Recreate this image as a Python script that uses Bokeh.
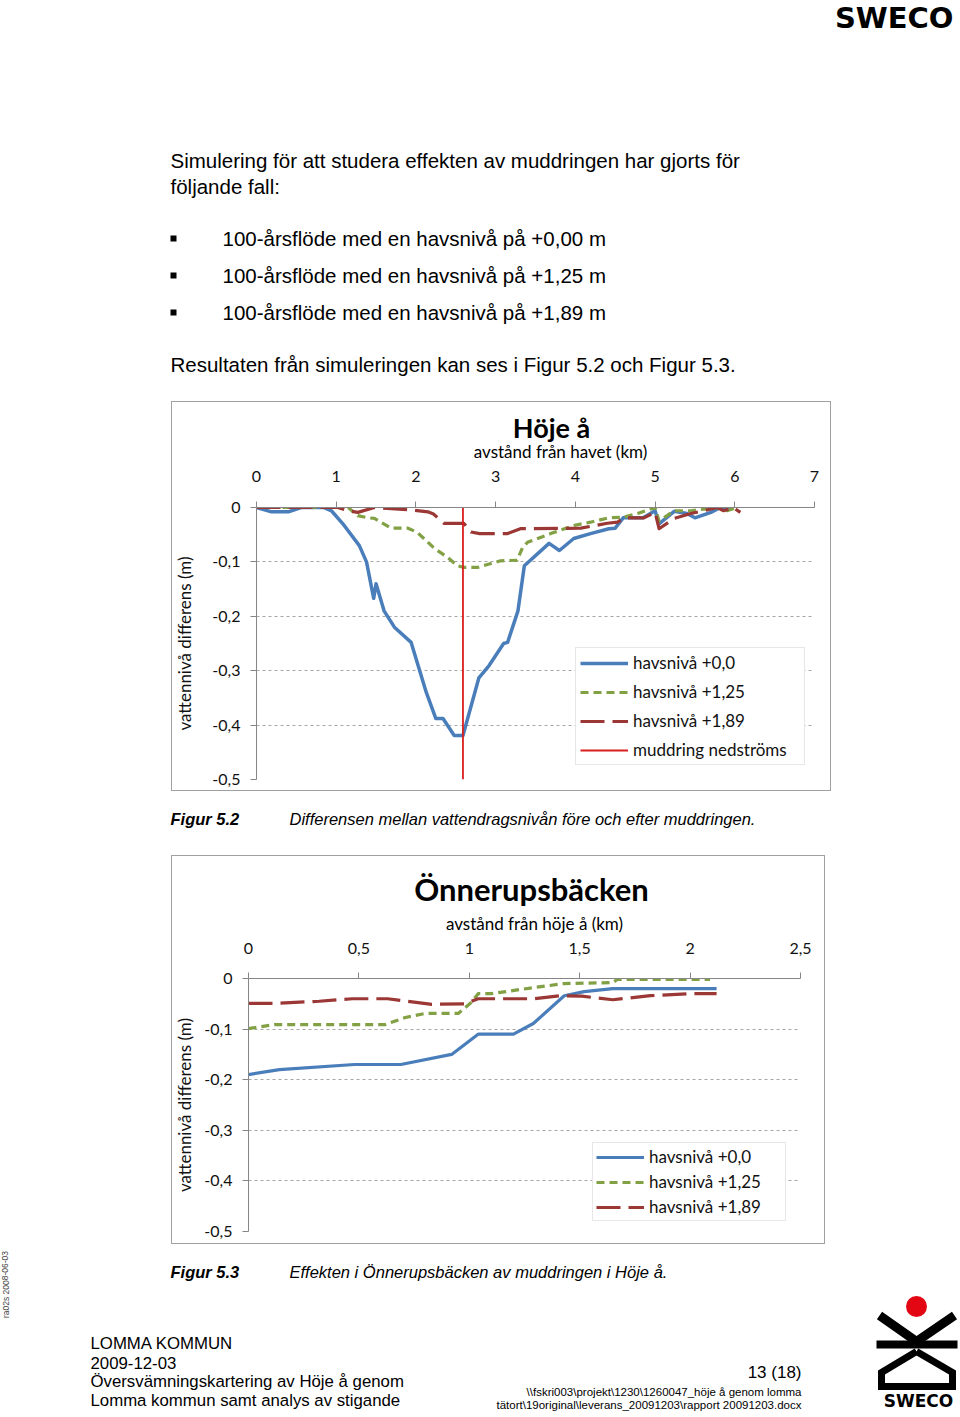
from bokeh.plotting import figure
from bokeh.layouts import column, row, Spacer
from bokeh.models import Range1d, FixedTicker, CustomJSTickFormatter, Legend, LegendItem
from bokeh.core.properties import value
from bokeh.embed import file_html
from bokeh.resources import INLINE

# ---------------- data: chart 1 (Höje å) ----------------
hoje_x_ticks = [0, 1, 2, 3, 4, 5, 6, 7]
hoje_y_ticks = [0, -0.1, -0.2, -0.3, -0.4, -0.5]

hoje_km_00 = [0, 0.19, 0.4, 0.56, 0.84, 0.94, 1.1, 1.29, 1.38, 1.47, 1.5, 1.6, 1.73, 1.94,
              2.13, 2.25, 2.34, 2.48, 2.59, 2.79, 2.92, 3.1, 3.15, 3.28, 3.36, 3.67, 3.8,
              3.98, 4.19, 4.42, 4.5, 4.6, 4.85, 5.0, 5.05, 5.24, 5.4, 5.5, 5.7, 5.82, 5.95]
hoje_diff_00 = [0, -0.008, -0.008, 0, 0, -0.006, -0.033, -0.07, -0.10, -0.167, -0.14, -0.19,
                -0.22, -0.248, -0.34, -0.388, -0.388, -0.419, -0.419, -0.313, -0.29, -0.25,
                -0.248, -0.19, -0.107, -0.066, -0.079, -0.057, -0.048, -0.039, -0.038, -0.019,
                -0.019, -0.006, -0.03, -0.007, -0.011, -0.019, -0.009, 0, 0]

hoje_km_125 = [0, 1.15, 1.27, 1.4, 1.48, 1.69, 1.9, 2.02, 2.23, 2.4, 2.52, 2.6, 2.78, 2.94,
               3.06, 3.27, 3.34, 3.4, 3.69, 3.98, 4.19, 4.42, 4.6, 4.78, 5.0, 5.05, 5.24,
               5.45, 5.78, 5.9, 6.03]
hoje_diff_125 = [0, 0, -0.015, -0.019, -0.02, -0.038, -0.038, -0.046, -0.075, -0.092, -0.107,
                 -0.11, -0.11, -0.103, -0.098, -0.097, -0.073, -0.064, -0.048, -0.033, -0.027,
                 -0.019, -0.018, -0.011, 0, -0.025, -0.006, -0.006, 0, -0.006, 0]

hoje_km_189 = [0, 1.02, 1.15, 1.27, 1.48, 1.9, 2.15, 2.22, 2.35, 2.6, 2.69, 2.8, 3.15, 3.31,
               4.07, 4.4, 4.53, 4.61, 4.86, 5.0, 5.05, 5.24, 5.45, 5.61, 5.78, 5.86, 5.98, 6.07]
hoje_diff_189 = [0, 0, -0.006, -0.009, 0, -0.004, -0.008, -0.012, -0.029, -0.029, -0.045,
                 -0.048, -0.048, -0.039, -0.038, -0.029, -0.027, -0.019, -0.019, -0.009,
                 -0.039, -0.02, -0.011, -0.006, 0, -0.006, 0, -0.009]

muddring_km = 2.59

# ---------------- data: chart 2 (Önnerupsbäcken) ----------------
onn_x_ticks = [0, 0.5, 1, 1.5, 2, 2.5]
onn_y_ticks = [0, -0.1, -0.2, -0.3, -0.4, -0.5]

onn_km_00 = [0, 0.14, 0.48, 0.69, 0.92, 1.04, 1.2, 1.29, 1.43, 1.52, 1.65, 2.12]
onn_diff_00 = [-0.19, -0.18, -0.17, -0.17, -0.15, -0.11, -0.11, -0.089, -0.034, -0.026,
               -0.02, -0.02]
onn_km_125 = [0, 0.12, 0.62, 0.71, 0.8, 0.95, 1.01, 1.04, 1.1, 1.29, 1.43, 1.65, 1.67, 2.09]
onn_diff_125 = [-0.099, -0.091, -0.091, -0.077, -0.069, -0.069, -0.047, -0.03, -0.03,
                -0.018, -0.01, -0.008, -0.002, -0.002]
onn_km_189 = [0, 0.12, 0.32, 0.47, 0.63, 0.83, 0.98, 1.04, 1.29, 1.41, 1.51, 1.65, 1.82,
              2.0, 2.12]
onn_diff_189 = [-0.049, -0.049, -0.045, -0.04, -0.04, -0.051, -0.05, -0.04, -0.04, -0.034,
                -0.035, -0.042, -0.034, -0.03, -0.03]

series_labels = ["havsnivå +0,0", "havsnivå +1,25", "havsnivå +1,89"]
muddring_label = "muddring nedströms"

# ---------------- texts ----------------
chart1_title = "Höje å"
chart1_sub = "avstånd från havet (km)"
chart2_title = "Önnerupsbäcken"
chart2_sub = "avstånd från höje å (km)"
y_label = "vattennivå differens (m)"
para_lines = ["Simulering för att studera effekten av muddringen har gjorts för",
              "följande fall:"]
bullet_lines = ["100-årsflöde med en havsnivå på +0,00 m",
                "100-årsflöde med en havsnivå på +1,25 m",
                "100-årsflöde med en havsnivå på +1,89 m"]
result_line = "Resultaten från simuleringen kan ses i Figur 5.2 och Figur 5.3."
cap1 = ("Figur 5.2", "Differensen mellan vattendragsnivån före och efter muddringen.")
cap2 = ("Figur 5.3", "Effekten i Önnerupsbäcken av muddringen i Höje å.")
footer_left = ["LOMMA KOMMUN", "2009-12-03", "Översvämningskartering av Höje å genom",
               "Lomma kommun samt analys av stigande"]
footer_page = "13 (18)"
footer_path = ["\\\\fskri003\\projekt\\1230\\1260047_höje å genom lomma",
               "tätort\\19original\\leverans_20091203\\rapport 20091203.docx"]
side_text = "ra02s 2008-06-03"

BLUE = "#4a7ebb"
GREEN = "#82a044"
DRED = "#9b3734"
RED = "#d91e1e"
GRAY = "#a6a6a6"
BOX = "#a0a0a0"
BODY_FONT = "Liberation Sans"
CHART_FONT = "Lato"

fmt_code = """
const v = Math.round(tick*10)/10;
let s = (v === 0) ? "0" : String(v);
return s.replace(".", ",");
"""

BOX_TOP = {"background-color": "white",
           "box-shadow": f"inset 1px 0 0 {BOX}, inset -1px 0 0 {BOX}, inset 0 1px 0 {BOX}"}
BOX_BOTTOM = {"background-color": "white",
              "box-shadow": f"inset 1px 0 0 {BOX}, inset -1px 0 0 {BOX}, inset 0 -1px 0 {BOX}"}


def page_fig(width, height, x0, y0, styles=None):
    if styles is not None:
        kw = dict(styles=styles, border_fill_color=None, background_fill_color=None)
    else:
        kw = dict(border_fill_color="white", background_fill_color="white")
    p = figure(width=width, height=height, x_range=Range1d(x0, x0 + width),
               y_range=Range1d(y0 + height, y0), x_axis_location=None, y_axis_location=None,
               output_backend="svg", toolbar_location=None, min_border=0, **kw)
    p.grid.visible = False
    p.outline_line_color = None
    return p


def txt(p, x, y, s, size, font=BODY_FONT, style="normal", align="left", color="#000000",
        angle=0.0):
    p.text(x=[x], y=[y], text=[s], text_font=value(font), text_font_size=value(f"{size}px"),
           text_font_style=style, text_align=align, text_baseline="middle",
           text_color=color, angle=angle)


def chart(width, height, xr, xticks, yticks, mb, xstand, ylab_stand):
    p = figure(width=width, height=height, x_range=Range1d(*xr), y_range=Range1d(-0.5, 0),
               x_axis_location="above", output_backend="svg", toolbar_location=None,
               min_border_left=mb[0], min_border_right=mb[1], min_border_top=mb[2],
               min_border_bottom=mb[3], border_fill_color=None,
               background_fill_color="white", styles=BOX_BOTTOM)
    p.title.visible = False
    p.outline_line_color = None
    p.xgrid.visible = False
    p.ygrid.grid_line_color = GRAY
    p.ygrid.grid_line_dash = "3 3"
    p.ygrid.grid_line_width = 1
    fmt = CustomJSTickFormatter(code=fmt_code)
    p.xaxis.ticker = FixedTicker(ticks=xticks)
    p.yaxis.ticker = FixedTicker(ticks=yticks)
    for ax in (p.xaxis[0], p.yaxis[0]):
        ax.formatter = fmt
        ax.axis_line_color = "#868686"
        ax.major_tick_line_color = "#868686"
        ax.minor_tick_line_color = None
        ax.major_tick_out = 6
        ax.major_tick_in = 0
        ax.major_label_text_font = CHART_FONT
        ax.major_label_text_font_size = "16px"
        ax.major_label_text_color = "#111111"
    p.xaxis.major_label_standoff = xstand
    p.yaxis.major_label_standoff = 10
    p.yaxis.axis_label = y_label
    p.yaxis.axis_label_text_font = CHART_FONT
    p.yaxis.axis_label_text_font_size = "17px"
    p.yaxis.axis_label_text_font_style = "normal"
    p.yaxis.axis_label_text_color = "#111111"
    p.yaxis.axis_label_standoff = ylab_stand
    return p


def add_legend(p, items, loc, label_width, spacing, padding):
    lg = Legend(items=items, location=loc, border_line_color="#d0d0d0",
                background_fill_color="white", background_fill_alpha=1.0,
                label_text_font=CHART_FONT, label_text_font_size="17px",
                label_text_color="#111111", glyph_width=48, glyph_height=18,
                label_height=18, label_width=label_width, spacing=spacing, padding=padding,
                margin=0, label_standoff=5)
    p.add_layout(lg)
    return lg


# ---------------- page header ----------------
head = page_fig(960, 401, 0, 0)
txt(head, 953, 17, "SWECO", 29, font="DejaVu Sans", style="bold", align="right")
txt(head, 170, 160, para_lines[0], 20.5)
txt(head, 170, 186, para_lines[1], 20.5)
for i, s in enumerate(bullet_lines):
    yy = 238 + 37 * i
    head.rect(x=[173], y=[yy], width=6, height=6, fill_color="black", line_color=None)
    txt(head, 222, yy, s, 20.5)
txt(head, 170, 364, result_line, 20.5)

# ---------------- chart 1 ----------------
h1 = page_fig(660, 61, 171, 401, styles=BOX_TOP)
txt(h1, 551, 427, chart1_title, 27, font=CHART_FONT, style="bold", align="center")
txt(h1, 560, 451, chart1_sub, 17, font=CHART_FONT, align="center")

p1 = chart(660, 329, (0, 7), hoje_x_ticks, hoje_y_ticks, (84, 17, 45, 12), 20, 14)
r00 = p1.line(hoje_km_00, hoje_diff_00, line_color=BLUE, line_width=3.5, line_join="round")
r125 = p1.line(hoje_km_125, hoje_diff_125, line_color=GREEN, line_width=3.2,
               line_dash="8 5", line_join="round")
r189 = p1.line(hoje_km_189, hoje_diff_189, line_color=DRED, line_width=3.2,
               line_dash="24 8", line_join="round")
rm = p1.line([muddring_km, muddring_km], [0, -0.5], line_color=RED, line_width=1.8)
add_legend(p1, [LegendItem(label=series_labels[0], renderers=[r00]),
                LegendItem(label=series_labels[1], renderers=[r125]),
                LegendItem(label=series_labels[2], renderers=[r189]),
                LegendItem(label=muddring_label, renderers=[rm])], (319, 14), 167, 8, 4)

# ---------------- caption 1 ----------------
capf = page_fig(960, 64, 0, 791)
txt(capf, 170, 818, cap1[0], 16.5, style="bold italic")
txt(capf, 289, 818, cap1[1], 16.5, style="italic")

# ---------------- chart 2 ----------------
h2 = page_fig(654, 78, 171, 855, styles=BOX_TOP)
txt(h2, 531, 888, chart2_title, 31, font=CHART_FONT, style="bold", align="center")
txt(h2, 534, 923, chart2_sub, 17, font=CHART_FONT, align="center")

p2 = chart(654, 311, (0, 2.5), onn_x_ticks, onn_y_ticks, (76, 25, 45, 13), 19, 6)
s00 = p2.line(onn_km_00, onn_diff_00, line_color=BLUE, line_width=3.2, line_join="round")
s125 = p2.line(onn_km_125, onn_diff_125, line_color=GREEN, line_width=3.2,
               line_dash="8 5", line_join="round")
s189 = p2.line(onn_km_189, onn_diff_189, line_color=DRED, line_width=3.2,
               line_dash="24 8", line_join="round")
add_legend(p2, [LegendItem(label=series_labels[0], renderers=[s00]),
                LegendItem(label=series_labels[1], renderers=[s125]),
                LegendItem(label=series_labels[2], renderers=[s189])], (344, 10), 133, 4, 3)

# ---------------- footer ----------------
foot = page_fig(960, 173, 0, 1244)
txt(foot, 170, 1271, cap2[0], 16.5, style="bold italic")
txt(foot, 289, 1271, cap2[1], 16.5, style="italic")
for i, s in enumerate(footer_left):
    txt(foot, 90, 1343 + 19 * i, s, 16.8)
txt(foot, 801, 1372, footer_page, 17, align="right")
txt(foot, 801, 1391, footer_path[0], 11.5, align="right")
txt(foot, 801, 1404, footer_path[1], 11.5, align="right")
txt(foot, 5, 1284, side_text, 8.5, color="#444444", align="center", angle=1.5708)

# SWECO logo (decoration)
logo_arms_x = [[879, 916, 954]]
logo_arms_y = [[1315, 1341, 1315]]
foot.multi_line(logo_arms_x, logo_arms_y, line_color="black", line_width=9,
                line_join="miter")
foot.line([876, 957], [1344, 1344], line_color="black", line_width=8)
foot.line([916, 881, 881, 952, 952, 916], [1351, 1372, 1386, 1386, 1372, 1351],
          line_color="black", line_width=7, line_join="miter")
foot.scatter([916], [1306], size=21, marker="circle", fill_color="#e30613", line_color=None)
txt(foot, 918, 1400, "SWECO", 17, font="DejaVu Sans", style="bold", align="center")

layout = column(head,
                row(Spacer(width=171, height=61), h1),
                row(Spacer(width=171, height=329), p1),
                capf,
                row(Spacer(width=171, height=78), h2),
                row(Spacer(width=171, height=311), p2),
                foot, spacing=0)

open("out.html", "w").write(file_html(layout, INLINE))
